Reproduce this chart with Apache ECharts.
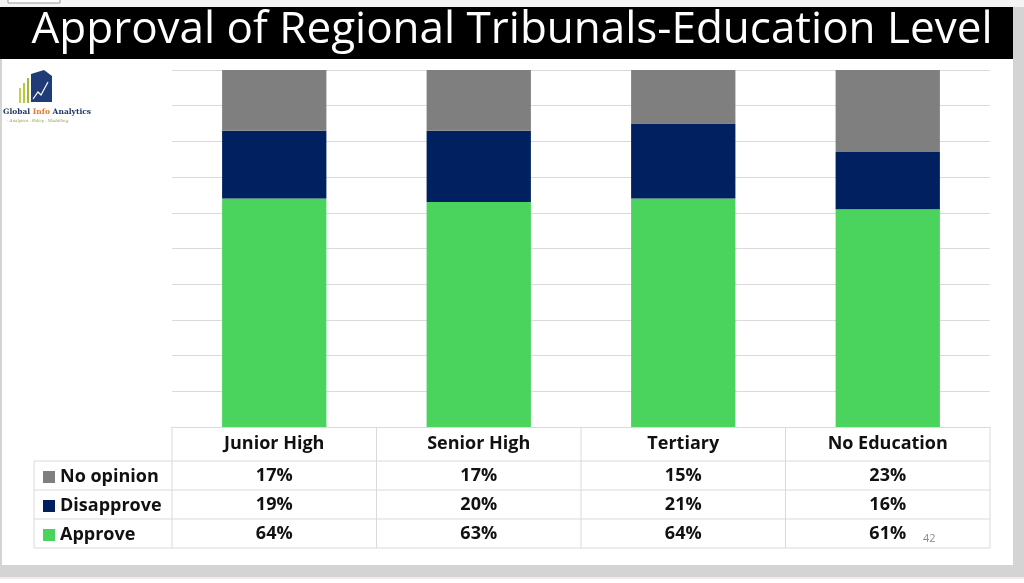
<!DOCTYPE html>
<html>
<head>
<meta charset="utf-8">
<script src="https://cdn.jsdelivr.net/npm/echarts@6/dist/echarts.min.js"></script>
<style>
  html, body { margin: 0; padding: 0; background: #fff; }
  #chart { width: 1024px; height: 583px; }
</style>
</head>
<body>
<div id="chart"></div>
<script>
// data
const categories = ['Junior High', 'Senior High', 'Tertiary', 'No Education'];
const approve = [64, 63, 64, 61];
const disapprove = [19, 20, 21, 16];
const noOpinion = [17, 17, 15, 23];
const yTicks = [0, 10, 20, 30, 40, 50, 60, 70, 80, 90, 100];

const colors = { noOpinion: '#7f7f7f', disapprove: '#002060', approve: '#4ad35d' };
const gridLine = '#dadada';

// plot / table geometry
const plotL = 172, plotR = 990, plotT = 70, plotB = 427;
const rowY = [461, 490, 519, 548];
const tableL = 34;

const chart = echarts.init(document.getElementById('chart'));

const lines = [];
// horizontal table lines
rowY.forEach(y => {
  lines.push({ type: 'line', shape: { x1: tableL, y1: y, x2: plotR, y2: y }, style: { stroke: gridLine, lineWidth: 1 } });
});
// vertical table lines
lines.push({ type: 'line', shape: { x1: tableL, y1: rowY[0], x2: tableL, y2: rowY[3] }, style: { stroke: gridLine, lineWidth: 1 } });
for (let i = 0; i <= categories.length; i++) {
  const x = plotL + (plotR - plotL) * i / categories.length;
  lines.push({ type: 'line', shape: { x1: x, y1: plotB, x2: x, y2: rowY[3] }, style: { stroke: gridLine, lineWidth: 1 } });
}

const cellFont = { fontFamily: 'Open Sans', fontWeight: 'bold', fontSize: 18, color: '#111' };

chart.setOption({
  animation: false,
  backgroundColor: '#ffffff',
  title: {
    text: 'Approval of Regional Tribunals-Education Level',
    left: 507, top: 3, textAlign: 'center',
    textStyle: { color: '#ffffff', fontFamily: 'Open Sans', fontWeight: 'normal', fontSize: 44 }
  },
  legend: {
    orient: 'vertical',
    left: 38, top: 462,
    itemWidth: 12, itemHeight: 12, itemGap: 9,
    icon: 'rect',
    data: ['No opinion', 'Disapprove', 'Approve'],
    textStyle: Object.assign({}, cellFont, { lineHeight: 20 })
  },
  grid: { left: plotL, right: 1024 - plotR, top: plotT, bottom: 583 - plotB },
  xAxis: {
    type: 'category',
    data: categories,
    axisLine: { lineStyle: { color: gridLine } },
    axisTick: { show: false },
    axisLabel: {
      margin: 0,
      interval: 0,
      formatter: (v, i) => `{h|${v}}\n{v|${noOpinion[i]}%}\n{v|${disapprove[i]}%}\n{v|${approve[i]}%}`,
      rich: {
        h: Object.assign({}, cellFont, { lineHeight: 34 }),
        v: Object.assign({}, cellFont, { lineHeight: 29 })
      }
    }
  },
  yAxis: {
    type: 'value',
    min: yTicks[0], max: yTicks[yTicks.length - 1], interval: 10,
    axisLabel: { show: false },
    axisLine: { show: false },
    axisTick: { show: false },
    splitLine: { lineStyle: { color: gridLine } }
  },
  series: [
    { name: 'Approve', type: 'bar', stack: 'all', data: approve, itemStyle: { color: colors.approve }, barCategoryGap: '49%' },
    { name: 'Disapprove', type: 'bar', stack: 'all', data: disapprove, itemStyle: { color: colors.disapprove } },
    { name: 'No opinion', type: 'bar', stack: 'all', data: noOpinion, itemStyle: { color: colors.noOpinion } }
  ],
  graphic: [
    // slide frame
    { type: 'rect', z: -10, shape: { x: 0, y: 0, width: 1024, height: 7 }, style: { fill: '#f4f4f4' } },
    { type: 'rect', z: -9, shape: { x: 8, y: -2, width: 52, height: 5 }, style: { fill: '#fff', stroke: '#9a9a9a', lineWidth: 1 } },
    { type: 'rect', z: -10, shape: { x: 0, y: 7, width: 1013, height: 52 }, style: { fill: '#000' } },
    { type: 'rect', z: -10, shape: { x: 1013, y: 7, width: 11, height: 570 }, style: { fill: '#d4d4d4' } },
    { type: 'rect', z: -10, shape: { x: 0, y: 565, width: 1024, height: 12 }, style: { fill: '#d4d4d4' } },
    { type: 'rect', z: -10, shape: { x: 0, y: 59, width: 2, height: 506 }, style: { fill: '#d4d4d4' } },
    { type: 'line', shape: { x1: 0, y1: 578, x2: 1024, y2: 578 }, style: { stroke: '#e8d6dc', lineWidth: 1 } },
    // logo
    { type: 'rect', shape: { x: 19, y: 88, width: 2, height: 15 }, style: { fill: '#c8d04a' } },
    { type: 'rect', shape: { x: 23, y: 83, width: 2, height: 20 }, style: { fill: '#b7c83a' } },
    { type: 'rect', shape: { x: 27, y: 78, width: 2, height: 25 }, style: { fill: '#9fbb36' } },
    { type: 'polygon', shape: { points: [[31, 74], [44, 70], [52, 76], [52, 102], [31, 102]] }, style: { fill: '#1f3b78' } },
    { type: 'polyline', shape: { points: [[33, 99], [38, 92], [41, 95], [48, 82]] }, style: { stroke: '#fff', lineWidth: 1.2, fill: null } },
    {
      type: 'text', left: 3, top: 108,
      style: {
        text: '{a|Global }{b|Info}{a| Analytics}',
        rich: {
          a: { fontFamily: 'DejaVu Serif', fontWeight: 'bold', fontSize: 7.5, fill: '#1f3864' },
          b: { fontFamily: 'DejaVu Serif', fontWeight: 'bold', fontSize: 7.5, fill: '#e07a2a' }
        }
      }
    },
    { type: 'text', left: 7, top: 119, style: { text: '- Analytics . Policy . Modelling', fontFamily: 'DejaVu Serif', fontStyle: 'italic', fontSize: 4, fill: '#8aa04a' } },
    // slide number
    { type: 'text', left: 923, top: 533, style: { text: '42', fontFamily: 'Open Sans', fontSize: 11, fill: '#8a8a8a' } },
    ...lines
  ]
});
</script>
</body>
</html>
